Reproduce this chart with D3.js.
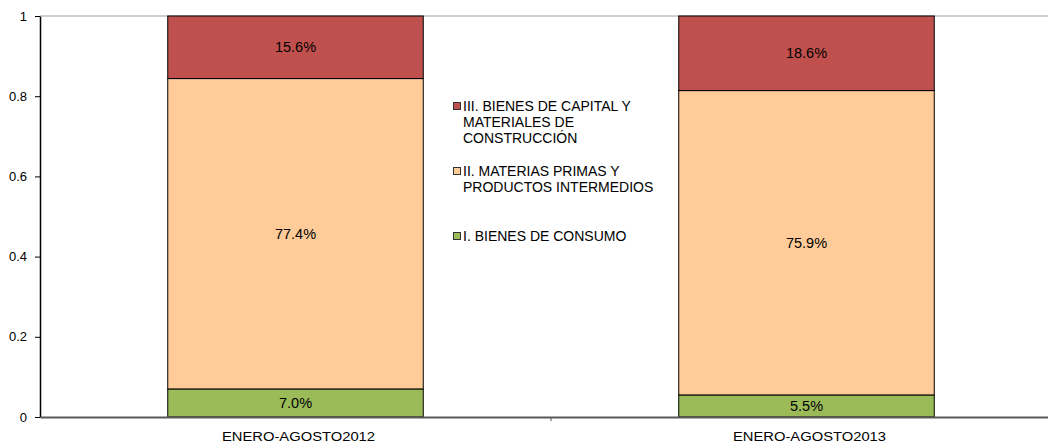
<!DOCTYPE html>
<html>
<head>
<meta charset="utf-8">
<script src="https://cdn.jsdelivr.net/npm/d3@7"></script>
<style>
  body { margin: 0; background: #fff; }
  text { font-family: "Liberation Sans", Arial, sans-serif; fill: #000; }
</style>
</head>
<body>
<svg width="1048" height="445"></svg>
<script>
const categories = ['ENERO-AGOSTO2012', 'ENERO-AGOSTO2013'];
const seriesNames = ['I. BIENES DE CONSUMO', 'II. MATERIAS PRIMAS Y PRODUCTOS INTERMEDIOS', 'III. BIENES DE CAPITAL Y MATERIALES DE CONSTRUCCIÓN'];
const consumo = [7.0, 5.5];
const materias = [77.4, 75.9];
const capital = [15.6, 18.6];
const yTicks = [0, 0.2, 0.4, 0.6, 0.8, 1];

const colors = ['#9BBB59', '#FFCC99', '#C0504D'];
// legend lines, top to bottom
const legendLines = [
  ['III. BIENES DE CAPITAL Y', 'MATERIALES DE', 'CONSTRUCCIÓN'],
  ['II. MATERIAS PRIMAS Y', 'PRODUCTOS INTERMEDIOS'],
  ['I. BIENES DE CONSUMO']
];

const svg = d3.select('svg');
const margin = {top: 16, bottom: 417, left: 40, right: 1062};

const xScale = d3.scaleBand()
    .domain(categories)
    .range([margin.left, margin.right])
    .paddingInner(0.5)
    .paddingOuter(0.25);
const step = xScale.step();

const yScale = d3.scaleLinear()
    .domain([0, 1])
    .range([margin.bottom, margin.top]);

const rows = categories.map((c, i) => ({cat: c, s0: consumo[i] / 100, s1: materias[i] / 100, s2: capital[i] / 100}));
const stacked = d3.stack().keys(['s0', 's1', 's2'])(rows);

// top border
svg.append('line')
    .attr('x1', margin.left).attr('x2', 1048)
    .attr('y1', yScale(1)).attr('y2', yScale(1))
    .attr('stroke', '#bfbfbf').attr('stroke-width', 1.5);

// bars
stacked.forEach((layer, k) => {
  svg.append('g').selectAll('rect')
      .data(layer)
      .enter()
      .append('rect')
      .attr('x', d => xScale(d.data.cat))
      .attr('width', xScale.bandwidth())
      .attr('y', d => yScale(d[1]))
      .attr('height', d => yScale(d[0]) - yScale(d[1]))
      .attr('fill', colors[k])
      .attr('stroke', '#000')
      .attr('stroke-width', 1);

  svg.append('g').selectAll('text')
      .data(layer)
      .enter()
      .append('text')
      .attr('x', d => xScale(d.data.cat) + xScale.bandwidth() / 2)
      .attr('y', d => (yScale(d[0]) + yScale(d[1])) / 2)
      .attr('dy', '0.35em')
      .attr('text-anchor', 'middle')
      .style('font-size', '14.5px')
      .text(d => ((d[1] - d[0]) * 100).toFixed(1) + '%');
});

// y axis
const yAxis = svg.append('g')
    .attr('transform', `translate(${margin.left},0)`)
    .call(d3.axisLeft(yScale).tickValues(yTicks).tickFormat(d3.format('~g')).tickSize(5).tickSizeOuter(0));
yAxis.select('.domain').attr('stroke', '#000').attr('stroke-width', 1.5);
yAxis.selectAll('.tick line').attr('stroke', '#000');
yAxis.selectAll('.tick text').attr('x', -13).style('font-size', '13px').style('font-family', '"Liberation Sans", Arial, sans-serif');

// x axis
const xAxis = svg.append('g')
    .attr('transform', `translate(0,${margin.bottom})`)
    .call(d3.axisBottom(xScale).tickSize(0).tickSizeOuter(0));
xAxis.select('.domain').attr('stroke', '#595959').attr('stroke-width', 2);
xAxis.selectAll('.tick text')
    .attr('y', 15)
    .attr('x', 3)
    .attr('textLength', 153)
    .attr('lengthAdjust', 'spacingAndGlyphs')
    .style('font-size', '12.5px')
    .style('font-family', '"Liberation Sans", Arial, sans-serif');
// separators between categories
xAxis.selectAll('.sep')
    .data(categories.slice(1))
    .enter()
    .append('line')
    .attr('x1', d => xScale(d) - step * 0.25)
    .attr('x2', d => xScale(d) - step * 0.25)
    .attr('y1', 0).attr('y2', 4)
    .attr('stroke', '#595959');

// legend
const legendY = [106, 171, 236];
const legend = svg.append('g');
legendLines.forEach((lines, i) => {
  legend.append('rect')
      .attr('x', 453.5).attr('y', legendY[i] - 3.5)
      .attr('width', 7).attr('height', 7)
      .attr('fill', colors[2 - i])
      .attr('stroke', '#333').attr('stroke-width', 1);
  lines.forEach((ln, j) => {
    legend.append('text')
        .attr('x', 463)
        .attr('y', legendY[i] + j * 16)
        .attr('dy', '0.35em')
        .style('font-size', '14px')
        .text(ln);
  });
});
</script>
</body>
</html>
